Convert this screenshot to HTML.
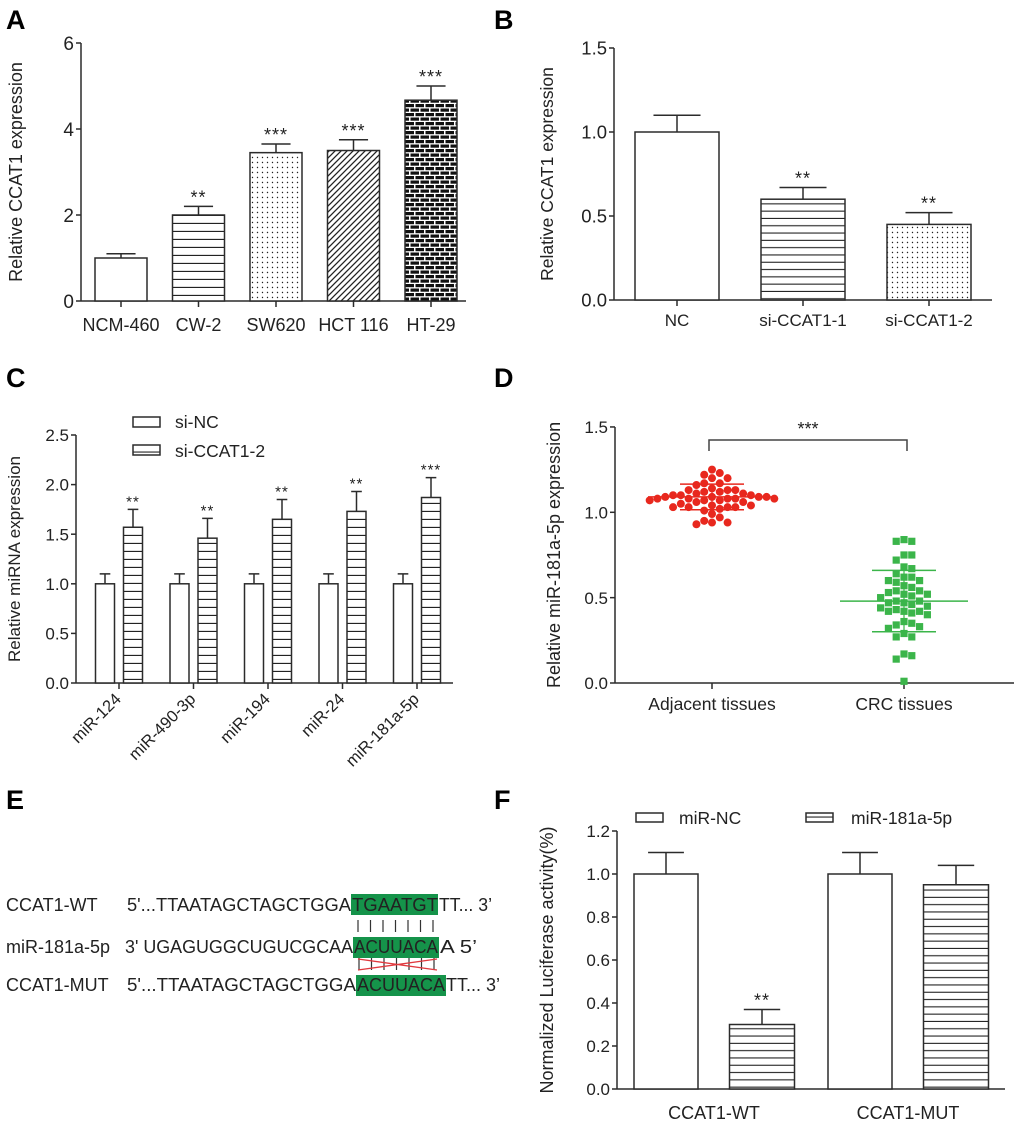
<!DOCTYPE html>
<html><head><meta charset="utf-8"><style>
body{margin:0;background:#fff}
svg{display:block;font-family:"Liberation Sans",Arial,sans-serif}
</style></head><body>
<svg id="fig" width="1020" height="1124" viewBox="0 0 1020 1124" xmlns="http://www.w3.org/2000/svg">
<defs>
<pattern id="hz8" width="8" height="8" patternUnits="userSpaceOnUse"><rect width="8" height="8" fill="#fff"/><line x1="0" y1="7.5" x2="8" y2="7.5" stroke="#222" stroke-width="1.3"/></pattern>
<pattern id="hz7" width="7" height="7.3" patternUnits="userSpaceOnUse"><rect width="7" height="7.3" fill="#fff"/><line x1="0" y1="6.8" x2="7" y2="6.8" stroke="#222" stroke-width="1.2"/></pattern>
<pattern id="dots" width="5" height="5" patternUnits="userSpaceOnUse"><rect width="5" height="5" fill="#fff"/><circle cx="2.5" cy="2.5" r="0.7" fill="#222"/></pattern>
<pattern id="diag" width="6" height="6" patternUnits="userSpaceOnUse"><rect width="6" height="6" fill="#fff"/><path d="M-1,7 L7,-1 M-1,1 L1,-1 M5,7 L7,5" stroke="#222" stroke-width="1.3"/></pattern>
<pattern id="brick" width="10" height="9" patternUnits="userSpaceOnUse"><rect width="10" height="9" fill="#fff"/><rect x="0.5" y="0.5" width="8.5" height="3.2" fill="#111"/><rect x="-4.5" y="5" width="8.5" height="3.2" fill="#111"/><rect x="5.5" y="5" width="8.5" height="3.2" fill="#111"/></pattern>
</defs>
<g font-weight="bold" font-size="27" fill="#000">
<text x="6" y="29">A</text>
<text x="494" y="29">B</text>
<text x="6" y="387">C</text>
<text x="494" y="387">D</text>
<text x="6" y="809">E</text>
<text x="494" y="809">F</text>
</g>
<g id="pA"></g>
<g id="pB"></g>
<g id="pC"></g>
<g id="pD"></g>
<g id="pF"></g>
<g font-size="18" fill="#222">
<rect x="351" y="894" width="87" height="21" fill="#15934a"/>
<rect x="353" y="937" width="86" height="21" fill="#15934a"/>
<rect x="356" y="975" width="90" height="21" fill="#15934a"/>
<text x="6" y="911">CCAT1-WT</text>
<text x="127" y="911" textLength="224" lengthAdjust="spacingAndGlyphs">5'...TTAATAGCTAGCTGGA</text>
<text x="352" y="911" textLength="86" lengthAdjust="spacingAndGlyphs">TGAATGT</text>
<text x="439" y="911" textLength="53" lengthAdjust="spacingAndGlyphs">TT... 3’</text>
<text x="6" y="953">miR-181a-5p</text>
<text x="125" y="953" textLength="228" lengthAdjust="spacingAndGlyphs">3' UGAGUGGCUGUCGCAA</text>
<text x="354" y="953" textLength="84" lengthAdjust="spacingAndGlyphs">ACUUACA</text>
<text x="440" y="953" textLength="37" lengthAdjust="spacingAndGlyphs">A  5’</text>
<text x="6" y="991">CCAT1-MUT</text>
<text x="127" y="991" textLength="229" lengthAdjust="spacingAndGlyphs">5'...TTAATAGCTAGCTGGA</text>
<text x="357" y="991" textLength="88" lengthAdjust="spacingAndGlyphs">ACUUACA</text>
<text x="446" y="991" textLength="54" lengthAdjust="spacingAndGlyphs">TT... 3’</text>
<g stroke="#333" stroke-width="1.2">
<path d="M358,920V932M370.5,920V932M383,920V932M395.5,920V932M408,920V932M420.5,920V932M433,920V932"/>
</g>
<g>
<path d="M359,958V970M371.5,958V970M384,958V970M396.5,958V970M409,958V970M421.5,958V970M434,958V970" stroke="#333" stroke-width="1.2"/>
<path d="M358,959L437,970M358,970L437,959" stroke="#e0393e" stroke-width="1.3"/>
</g>
</g>
</svg>
<script>
// ---------- data ----------
const aCats = ["NCM-460","CW-2","SW620","HCT 116","HT-29"];
const aVals = [1.0,2.0,3.45,3.5,4.67];
const aErr = [0.1,0.2,0.2,0.25,0.33];
const aSig = ["","**","***","***","***"];
const aTicks = [0,2,4,6];

const bCats = ["NC","si-CCAT1-1","si-CCAT1-2"];
const bVals = [1.0,0.6,0.45];
const bErr = [0.1,0.07,0.07];
const bSig = ["","**","**"];
const bTicks = [0,0.5,1.0,1.5];

const cCats = ["miR-124","miR-490-3p","miR-194","miR-24","miR-181a-5p"];
const cNC = [1.0,1.0,1.0,1.0,1.0];
const cNCErr = [0.1,0.1,0.1,0.1,0.1];
const cSi = [1.57,1.46,1.65,1.73,1.87];
const cSiErr = [0.18,0.2,0.2,0.2,0.2];
const cSig = ["**","**","**","**","***"];
const cTicks = [0,0.5,1.0,1.5,2.0,2.5];

const dCats = ["Adjacent tissues","CRC tissues"];
const dAdj = [1.25,1.23,1.22,1.20,1.20,1.17,1.17,1.16,1.14,1.13,1.13,1.13,1.12,1.12,1.11,1.11,1.10,1.10,1.10,1.09,1.09,1.09,1.09,1.08,1.08,1.08,1.08,1.08,1.07,1.07,1.07,1.06,1.06,1.05,1.04,1.04,1.03,1.03,1.03,1.03,1.02,1.01,0.99,0.97,0.95,0.94,0.94,0.93];
const dCrc = [0.84,0.83,0.83,0.75,0.75,0.72,0.68,0.67,0.64,0.62,0.62,0.60,0.60,0.59,0.57,0.56,0.54,0.54,0.53,0.52,0.52,0.51,0.50,0.48,0.48,0.47,0.47,0.46,0.45,0.44,0.43,0.42,0.42,0.42,0.41,0.40,0.36,0.35,0.34,0.33,0.32,0.29,0.27,0.27,0.17,0.16,0.14,0.01];
const dMean = [1.09,0.48];
const dSd = [0.075,0.18];
const dTicks = [0,0.5,1.0,1.5];

const fCats = ["CCAT1-WT","CCAT1-MUT"];
const fNC = [1.0,1.0];
const fNCErr = [0.1,0.1];
const fMiR = [0.3,0.95];
const fMiRErr = [0.07,0.09];
const fSig = ["**",""];
const fTicks = [0,0.2,0.4,0.6,0.8,1.0,1.2];

// ---------- helpers ----------
const NS="http://www.w3.org/2000/svg";
function mk(parent,tag,attrs,txt){const e=document.createElementNS(NS,tag);for(const k in attrs)e.setAttribute(k,attrs[k]);if(txt!==undefined)e.textContent=txt;parent.appendChild(e);return e;}
const INK="#2b2b2b";
function yAxis(g,x,y0,yTop,scale,ticks,fmt,fs,title,titleX,tfs){
  const ax=mk(g,"line",{x1:x,y1:y0,x2:x,y2:yTop,stroke:INK,"stroke-width":1.5});
  
  
  ticks.forEach(t=>{const y=scale(t);
    const tk=mk(g,"line",{x1:x-5,y1:y,x2:x,y2:y,stroke:INK,"stroke-width":1.5});
    
    
    const lb=mk(g,"text",{x:x-7,y:y+fs*0.36,"text-anchor":"end","font-size":fs,fill:"#222"},fmt(t));
    
    
  });
  const mid=(y0+yTop)/2;
  const tt=mk(g,"text",{x:titleX,y:mid,"text-anchor":"middle","font-size":tfs,fill:"#222",transform:`rotate(-90 ${titleX} ${mid})`},title);
  
  
}
function xAxis(g,x1,x2,y){
  const l=mk(g,"line",{x1:x1,y1:y,x2:x2,y2:y,stroke:INK,"stroke-width":1.5});
  
  
}
function xTick(g,x,y){
  const t=mk(g,"line",{x1:x,y1:y,x2:x,y2:y+6,stroke:INK,"stroke-width":1.5});
  
  
}
function bar(g,cx,w,val,err,scale,y0,fill,name,sig,sfs){
  const top=scale(val);
  const r=mk(g,"rect",{x:cx-w/2,y:top,width:w,height:y0-top,fill:fill,stroke:INK,"stroke-width":1.5});
  
  
  const et=scale(val+err);
  const e=mk(g,"path",{d:`M${cx},${top}V${et}M${cx-w*0.28},${et}H${cx+w*0.28}`,stroke:INK,"stroke-width":1.5,fill:"none"});
  
  
  if(sig){const s=mk(g,"text",{x:cx,y:et-3,"text-anchor":"middle","font-size":sfs||17,fill:"#222"},sig);
    
    
    s.setAttribute('letter-spacing','1');}
}

// ---------- Panel A ----------
(function(){
  const g=document.getElementById("pA");
  const y0=301, ppu=43, x0=81;
  const sy=v=>y0-v*ppu;
  const sx=i=>121+i*77.5;
  yAxis(g,x0,y0,sy(6),sy,aTicks,t=>String(t),19,"Relative CCAT1 expression",22,18);
  xAxis(g,x0,466,y0);
  const fills=["#fff","url(#hz8)","url(#dots)","url(#diag)","url(#brick)"];
  aCats.forEach((c,i)=>{
    bar(g,sx(i),52,aVals[i],aErr[i],sy,y0,fills[i],"bar-"+c.toLowerCase().replace(/\s+/g,'-'),aSig[i],18);
    xTick(g,sx(i),y0);
    const t=mk(g,"text",{x:sx(i),y:331,"text-anchor":"middle","font-size":18,fill:"#222"},c);
    
    
  });
})();

// ---------- Panel B ----------
(function(){
  const g=document.getElementById("pB");
  const y0=300, ppu=168, x0=614;
  const sy=v=>y0-v*ppu;
  const sx=i=>677+i*126;
  yAxis(g,x0,y0,sy(1.5),sy,bTicks,t=>t.toFixed(1),18.5,"Relative CCAT1 expression",553,17.5);
  xAxis(g,x0,992,y0);
  const fills=["#fff","url(#hz7)","url(#dots)"];
  bCats.forEach((c,i)=>{
    bar(g,sx(i),84,bVals[i],bErr[i],sy,y0,fills[i],"bar-"+c.toLowerCase(),bSig[i],18);
    xTick(g,sx(i),y0);
    const t=mk(g,"text",{x:sx(i),y:326,"text-anchor":"middle","font-size":17,fill:"#222"},c);
    
    
  });
})();

// ---------- Panel C ----------
(function(){
  const g=document.getElementById("pC");
  const y0=683, ppu=99.2, x0=76;
  const sy=v=>y0-v*ppu;
  const sx=i=>119+i*74.5;
  yAxis(g,x0,y0,sy(2.5),sy,cTicks,t=>t.toFixed(1),17,"Relative miRNA expression",20,17);
  xAxis(g,x0,453,y0);
  cCats.forEach((c,i)=>{
    bar(g,sx(i)-14,19,cNC[i],cNCErr[i],sy,y0,"#fff","bar-si-nc-"+c,"");
    bar(g,sx(i)+14,19,cSi[i],cSiErr[i],sy,y0,"url(#hz8)","bar-si-ccat1-2-"+c,cSig[i],15);
    xTick(g,sx(i),y0);
    const t=mk(g,"text",{x:sx(i)+3,y:y0+17,"text-anchor":"end","font-size":16.5,fill:"#222",transform:`rotate(-45 ${sx(i)+3} ${y0+17})`},c);
    
    
  });
  const l1=mk(g,"rect",{x:133,y:417,width:27,height:10,fill:"#fff",stroke:INK,"stroke-width":1.5});
  
  
  const l2=mk(g,"rect",{x:133,y:445,width:27,height:10,fill:"url(#hz7)",stroke:INK,"stroke-width":1.5});
  
  
  const t1=mk(g,"text",{x:175,y:428,"font-size":17.5,fill:"#222"},"si-NC");
  
  
  const t2=mk(g,"text",{x:175,y:457,"font-size":17.5,fill:"#222"},"si-CCAT1-2");
  
  
})();

// ---------- Panel D ----------
(function(){
  const g=document.getElementById("pD");
  const y0=683, ppu=170.7, x0=615;
  const sy=v=>y0-v*ppu;
  const cx=[712,904];
  yAxis(g,x0,y0,sy(1.5),sy,dTicks,t=>t.toFixed(1),17,"Relative miR-181a-5p  expression",560,18);
  xAxis(g,x0,1014,y0);
  dCats.forEach((c,i)=>{
    xTick(g,cx[i],y0);
    const t=mk(g,"text",{x:cx[i],y:y0+27,"text-anchor":"middle","font-size":17.5,fill:"#222"},c);
    
    
  });
  function swarm(vals,center,diam){
    const placed=[];const out=[];
    vals.forEach(v=>{
      const y=sy(v);let best=null;
      for(let k=0;k<40;k++){
        const off=(k%2?1:-1)*Math.ceil(k/2)*diam*0.95;
        const x=center+off;
        if(placed.every(p=>Math.hypot(p[0]-x,p[1]-y)>=diam*0.9)){best=x;break;}
      }
      if(best===null)best=center;
      placed.push([best,y]);out.push([best,y]);
    });
    return out;
  }
  const colors=["#e8281e","#3bb54a"];
  [dAdj,dCrc].forEach((arr,gi)=>{
    const pts=swarm(arr,cx[gi],8.2);
    pts.forEach(p=>{
      let m;
      if(gi===0){m=mk(g,"circle",{cx:p[0],cy:p[1],r:4,fill:colors[0]});}
      else{m=mk(g,"rect",{x:p[0]-3.6,y:p[1]-3.6,width:7.2,height:7.2,fill:colors[1]});}
      
    });
    const mm=mk(g,"line",{x1:cx[gi]-64,x2:cx[gi]+64,y1:sy(dMean[gi]),y2:sy(dMean[gi]),stroke:colors[gi],"stroke-width":1.5});
    
    
    [1,-1].forEach(s=>{
      const sd=mk(g,"line",{x1:cx[gi]-32,x2:cx[gi]+32,y1:sy(dMean[gi]+s*dSd[gi]),y2:sy(dMean[gi]+s*dSd[gi]),stroke:colors[gi],"stroke-width":1.5});
      
      
    });
    const v=mk(g,"line",{x1:cx[gi],x2:cx[gi],y1:sy(dMean[gi]+dSd[gi]),y2:sy(dMean[gi]-dSd[gi]),stroke:colors[gi],"stroke-width":1.2});
    
    
  });
  const br=mk(g,"path",{d:`M${cx[0]-3},451V440H${cx[1]+3}V451`,stroke:"#444","stroke-width":1.5,fill:"none"});
  
  
  const st=mk(g,"text",{x:(cx[0]+cx[1])/2,y:435,"text-anchor":"middle","font-size":18,fill:"#222"},"***");
  
  
})();

// ---------- Panel F ----------
(function(){
  const g=document.getElementById("pF");
  const y0=1089, ppu=215, x0=617;
  const sy=v=>y0-v*ppu;
  const cx=[714,908];
  yAxis(g,x0,y0,sy(1.2),sy,fTicks,t=>t.toFixed(1),17,"Normalized Luciferase activity(%)",553,18);
  xAxis(g,x0,1005,y0);
  fCats.forEach((c,i)=>{
    bar(g,cx[i]-48,64,fNC[i],fNCErr[i],sy,y0,"#fff","bar-mir-nc-"+c.toLowerCase(),"");
    bar(g,cx[i]+48,65,fMiR[i],fMiRErr[i],sy,y0,"url(#hz7)","bar-mir-181a-5p-"+c.toLowerCase(),fSig[i],18);
    const t=mk(g,"text",{x:cx[i],y:1119,"text-anchor":"middle","font-size":18,fill:"#222"},c);
    
    
  });
  const l1=mk(g,"rect",{x:636,y:813,width:27,height:9,fill:"#fff",stroke:INK,"stroke-width":1.5});
  
  
  const l2=mk(g,"rect",{x:806,y:813,width:27,height:9,fill:"url(#hz7)",stroke:INK,"stroke-width":1.5});
  
  
  const t1=mk(g,"text",{x:679,y:824,"font-size":17.5,fill:"#222"},"miR-NC");
  
  
  const t2=mk(g,"text",{x:851,y:824,"font-size":17.5,fill:"#222"},"miR-181a-5p");
  
  
})();
</script>
</body></html>
